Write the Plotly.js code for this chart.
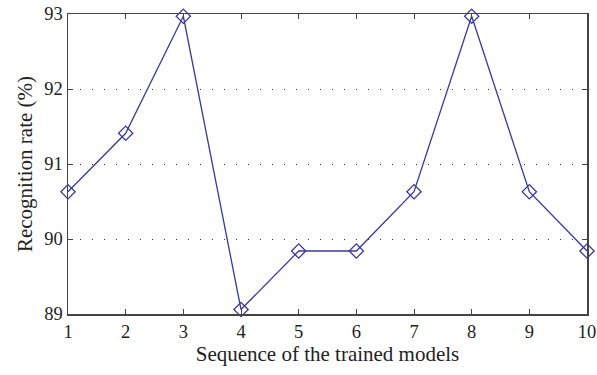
<!DOCTYPE html>
<html>
<head>
<meta charset="utf-8">
<script src="https://cdn.plot.ly/plotly-3.0.1.min.js"></script>
<style>html,body{margin:0;padding:0;background:#fff;}#chart{width:597px;height:375px;}</style>
</head>
<body>
<div id="chart"></div>
<script>
const models = [1, 2, 3, 4, 5, 6, 7, 8, 9, 10];
const recognitionRate = [90.63, 91.41, 92.97, 89.06, 89.84, 89.84, 90.63, 92.97, 90.63, 89.84];
const xTicks = [1, 2, 3, 4, 5, 6, 7, 8, 9, 10];
const yTicks = [89, 90, 91, 92, 93];

const trace = {
  x: models,
  y: recognitionRate,
  type: 'scatter',
  mode: 'lines+markers',
  line: {color: '#3a3aa0', width: 1.3},
  marker: {symbol: 'diamond-open', size: 11, color: '#3a3aa0', line: {width: 1.3, color: '#3a3aa0'}},
  cliponaxis: false,
  showlegend: false
};

const font = {family: '"Liberation Serif", "DejaVu Serif", serif', color: '#222', size: 18};

const layout = {
  width: 597, height: 375,
  margin: {l: 68, r: 10, t: 14, b: 61},
  paper_bgcolor: '#fff', plot_bgcolor: '#fff',
  font: font,
  xaxis: {
    range: [1, 10], tickvals: xTicks, ticktext: xTicks.map(String),
    showline: true, linecolor: '#444', linewidth: 1.5, mirror: 'ticks',
    ticks: 'inside', ticklen: 5, tickcolor: '#444', tickwidth: 1,
    showgrid: false, zeroline: false,
    tickfont: {size: 18.5},
    title: {text: 'Sequence of the trained models', font: {size: 21}, standoff: 4}
  },
  yaxis: {
    range: [89, 93], tickvals: yTicks, ticktext: yTicks.map(String),
    showline: true, linecolor: '#444', linewidth: 1.5, mirror: 'ticks',
    ticks: 'inside', ticklen: 5, tickcolor: '#444', tickwidth: 1,
    showgrid: true, gridcolor: '#333', gridwidth: 1, griddash: '1px,11px',
    zeroline: false,
    tickfont: {size: 18.5},
    title: {text: 'Recognition rate (%)', font: {size: 21}, standoff: 6}
  }
};

Plotly.newPlot('chart', [trace], layout, {staticPlot: true});
</script>
</body>
</html>
